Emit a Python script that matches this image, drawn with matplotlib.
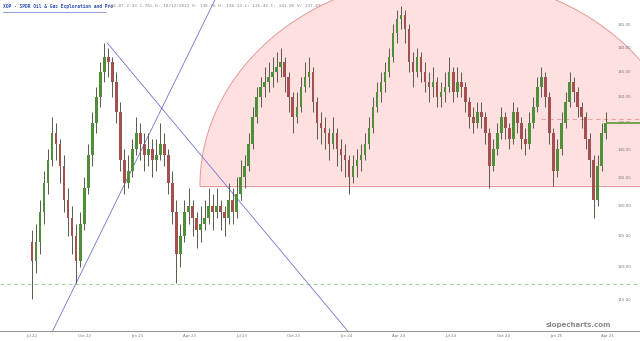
"""XOP weekly candles with arc, trendlines and levels (slopecharts style)."""
import numpy as np
import pandas as pd
import matplotlib
matplotlib.use("Agg")
import matplotlib.pyplot as plt
import matplotlib.dates as mdates
from matplotlib.lines import Line2D
from matplotlib.ticker import NullLocator

# weekly bars, starting 2022-07-01
opens = [124, 121, 124, 129, 134, 138, 143, 141, 137, 131, 128, 125,
         121, 127, 133, 139, 145, 150, 155, 158, 157, 153, 147, 138,
         134, 136, 140, 143, 141, 139, 140, 138, 139, 141, 139, 134,
         129, 122, 125, 129, 130, 128, 126, 127, 128, 130, 129, 130,
         129, 128, 131, 129, 132, 135, 137, 141, 146, 150, 152, 153,
         154, 155, 156, 157, 154, 150, 146, 148, 152, 154, 155, 149,
         145, 144, 143, 141, 143, 140, 139, 138, 135, 137, 138, 139,
         141, 144, 148, 151, 153, 155, 158, 163, 166, 167, 164, 157,
         155, 158, 155, 153, 152, 153, 150, 151, 152, 155, 151, 153,
         152, 149, 146, 145, 147, 146, 143, 137, 140, 143, 146, 144,
         142, 147, 145, 142, 141, 145, 148, 152, 154, 150, 143, 136,
         140, 145, 149, 153, 151, 148, 146, 142, 138, 131, 137, 143]
highs = [126, 127, 131, 136, 140, 146, 145, 142, 139, 133, 130, 127,
         129, 135, 141, 147, 152, 157, 161, 160, 158, 155, 149, 140,
         139, 142, 146, 145, 143, 143, 142, 142, 145, 143, 140, 136,
         131, 127, 131, 133, 131, 129, 130, 131, 133, 132, 133, 131,
         130, 134, 133, 135, 138, 139, 143, 148, 152, 154, 156, 157,
         158, 159, 160, 158, 155, 151, 151, 154, 157, 158, 156, 150,
         147, 146, 144, 146, 144, 142, 141, 139, 139, 140, 141, 143,
         146, 150, 153, 155, 157, 160, 165, 168, 169, 168, 165, 159,
         160, 159, 157, 155, 156, 154, 153, 155, 158, 156, 156, 155,
         153, 150, 148, 149, 149, 147, 144, 142, 145, 148, 147, 145,
         149, 148, 146, 144, 147, 150, 154, 156, 155, 151, 144, 142,
         147, 151, 155, 154, 152, 149, 147, 143, 139, 139, 145, 147]
lows = [115, 119, 122, 127, 132, 137, 138, 134, 129, 125, 122, 117.5,
        120, 126, 132, 137, 143, 148, 153, 154, 150, 145, 136, 132,
        133, 135, 139, 138, 136, 137, 135, 136, 138, 137, 132, 127,
        117.5, 120, 124, 127, 125, 123, 124, 126, 127, 126, 128, 126,
        125, 127, 127, 128, 131, 133, 136, 140, 145, 148, 150, 151,
        152, 153, 154, 151, 147, 143, 145, 147, 151, 152, 147, 142,
        141, 140, 138, 140, 137, 136, 135, 132, 134, 135, 136, 138,
        140, 143, 147, 149, 151, 154, 157, 161, 164, 161, 155, 152,
        154, 153, 151, 149, 150, 148, 148, 149, 151, 149, 150, 150,
        147, 144, 143, 144, 144, 141, 133, 136, 139, 142, 142, 140,
        141, 143, 140, 139, 140, 144, 147, 150, 148, 141, 133.5, 135,
        139, 144, 148, 149, 146, 144, 140, 135, 128, 130, 136, 142]
closes = [121, 124, 129, 134, 138, 143, 141, 137, 131, 128, 125, 121,
          127, 133, 139, 145, 150, 155, 158, 157, 153, 147, 138, 134,
          136, 140, 143, 141, 139, 140, 138, 139, 141, 139, 134, 129,
          122, 125, 129, 130, 128, 126, 127, 128, 130, 129, 130, 129,
          128, 131, 129, 132, 135, 137, 141, 146, 150, 152, 153, 154,
          155, 156, 157, 154, 150, 146, 148, 152, 154, 155, 149, 145,
          144, 143, 141, 143, 140, 139, 138, 135, 137, 138, 139, 141,
          144, 148, 151, 153, 155, 158, 163, 166, 167, 164, 157, 155,
          158, 155, 153, 152, 153, 150, 151, 152, 155, 151, 153, 152,
          149, 146, 145, 147, 146, 143, 137, 140, 143, 146, 144, 142,
          147, 145, 142, 141, 145, 148, 152, 154, 150, 143, 136, 140,
          145, 149, 153, 151, 148, 146, 142, 138, 131, 137, 143, 145]
dates = pd.date_range("2022-07-01", periods=len(closes), freq="7D")

price_ticks = [115, 120, 125, 130, 135, 140, 145, 150, 155, 160, 165]
tick_dates = ["2022-07-01", "2022-10-01", "2023-01-01", "2023-04-01",
              "2023-07-01", "2023-10-01", "2024-01-01", "2024-04-01",
              "2024-07-01", "2024-10-01", "2025-01-01", "2025-04-01"]
tick_labels = ["Jul 22", "Oct 22", "Jan 23", "Apr 23", "Jul 23", "Oct 23",
               "Jan 24", "Apr 24", "Jul 24", "Oct 24", "Jan 25", "Apr 25"]

# annotations drawn on the chart
arc_base = 133.5
arc_left, arc_right = "2023-04-20", "2025-08-21"
arc_top = 175.5
trend_up = [("2022-09-16", 117.5), ("2023-05-16", 170.3)]
trend_down = [("2022-11-09", 161.0), ("2024-01-03", 110.3)]
support = 117.4
resist, resist_from = 145.6, "2024-12-05"
last_price = 144.9

title_name = "XOP - SPDR Oil & Gas Exploration and Pro"
title_rest = ("136.87 2.33 1.76% D: 10/12/2023 O: 138.76 H: 138.13 "
              "L: 136.46 C: 141.05 V: 137.87")

fig = plt.figure(figsize=(6.4, 3.41), dpi=100, facecolor="white")
ax = fig.add_axes([0, 0.029, 1, 0.971])
ax.set_yscale("log")
ax.set_ylim(110.3, 170.3)
x0 = mdates.date2num(pd.Timestamp("2022-05-06"))
x1 = mdates.date2num(pd.Timestamp("2025-05-27"))
ax.set_xlim(x0, x1)

# ---- pink half-ellipse zone ----
la = mdates.date2num(pd.Timestamp(arc_left))
ra = mdates.date2num(pd.Timestamp(arc_right))
cx, hw = (la + ra) / 2, (ra - la) / 2
t = np.linspace(0, np.pi, 300)
ex = cx + hw * np.cos(t)
ey = arc_base * np.exp(np.log(arc_top / arc_base) * np.sin(t))
ax.fill(ex, ey, color="#ffe0e0", zorder=0, lw=0)
ax.plot(ex, ey, color="#e39a9a", lw=0.7, zorder=1)
ax.plot([la, ra], [arc_base, arc_base], color="#e39a9a", lw=0.8, zorder=1)

# ---- levels ----
ax.axhline(support, color="#9ad69a", lw=0.7, ls=(0, (4, 3)), zorder=1)
ax.hlines(resist, mdates.date2num(pd.Timestamp(resist_from)), x1,
          color="#e8a0a0", lw=0.8, ls=(0, (4, 3)), zorder=1)

# ---- trendlines ----
p1 = [(mdates.date2num(pd.Timestamp(d)), v) for d, v in trend_up]
ax.axline(p1[0], p1[1], color="#7373d0", lw=0.6, zorder=2)
p2 = [(mdates.date2num(pd.Timestamp(d)), v) for d, v in trend_down]
ax.plot([p2[0][0], p2[1][0]], [p2[0][1], p2[1][1]], color="#7373d0",
        lw=0.6, zorder=2)

# ---- candles ----
xs = mdates.date2num(dates)
o, h, l, c = map(np.array, (opens, highs, lows, closes))
up = c >= o
cols = np.where(up, "#4f8f3a", "#a55050")
ax.vlines(xs, l, h, color="#5a5a4a", lw=0.7, zorder=3)
bot = np.minimum(o, c)
ht = np.maximum(np.abs(c - o), 0.4)
ax.bar(xs, ht, bottom=bot, width=4.5, color=cols, lw=0, zorder=4)

# last price line
ax.hlines(last_price, xs[-1], x1, color="#6a9f45", lw=1.3, zorder=5)

# ---- axes styling ----
for side in ("left", "right", "top"):
    ax.spines[side].set_visible(False)
ax.spines["bottom"].set_color("#999999")
ax.spines["bottom"].set_linewidth(0.8)
ax.yaxis.set_ticks_position("right")
ax.yaxis.set_minor_locator(NullLocator())
ax.set_yticks(price_ticks, labels=[f"{v:.2f}" for v in price_ticks])
ax.tick_params(axis="y", length=0, pad=-16, labelsize=2.8, labelcolor="#777777")
ax.set_xticks([mdates.date2num(pd.Timestamp(d)) for d in tick_dates],
              labels=tick_labels)
ax.xaxis.set_minor_locator(NullLocator())
ax.tick_params(axis="x", length=0, pad=2, labelsize=2.8, labelcolor="#777777")

# ---- title + watermark ----
fig.text(0.004, 0.988, title_name, fontsize=3.3, color="#3355bb",
         family="DejaVu Sans Mono", fontweight="bold", va="top")
fig.add_artist(Line2D([0.004, 0.165], [0.964, 0.964], color="#3355bb", lw=0.4))
fig.text(0.169, 0.988, title_rest, fontsize=3.2, color="#888888",
         family="DejaVu Sans Mono", va="top")
fig.text(0.955, 0.047, "slopecharts.com", fontsize=5, color="#8a8a8a",
         fontweight="bold", ha="right", va="center")

fig.savefig("out.png", dpi=100, facecolor="white")
